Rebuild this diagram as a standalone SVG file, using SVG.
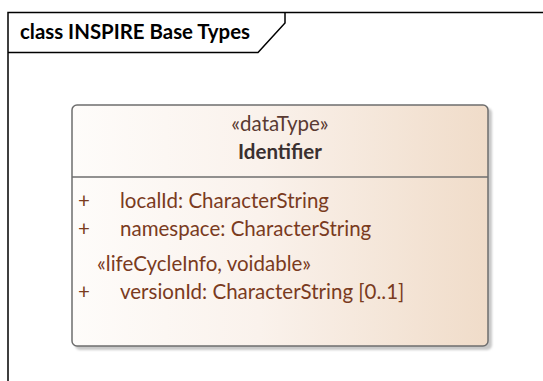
<svg xmlns="http://www.w3.org/2000/svg" width="543" height="381" viewBox="0 0 543 381">
  <style>
    .frame { fill: none; stroke: #000; stroke-width: 1.5; }
    .title { font-family: Lato, "Open Sans", sans-serif; font-weight: bold; font-size: 20.4px; fill: #000; }
    .stereo { font-family: Lato, "Open Sans", sans-serif; font-size: 20.5px; fill: #5a3a32; }
    .name { font-family: Lato, "Open Sans", sans-serif; font-weight: bold; font-size: 20.5px; fill: #3a3030; }
    .attr { font-family: Lato, "Open Sans", sans-serif; font-size: 20.5px; fill: #7a3b1e; }
    .box { fill: url(#nodeFill); stroke: #6e6e6e; stroke-width: 1.5; }
    .shadow { fill: #c8c8c8; }
    .divider { stroke: #6e6e6e; stroke-width: 1.5; }
  </style>
  <defs>
    <linearGradient id="nodeFill" x1="0" y1="0" x2="1" y2="0">
      <stop offset="0" stop-color="#fefcfa"/>
      <stop offset="0.45" stop-color="#faf2ec"/>
      <stop offset="1" stop-color="#f0dcc9"/>
    </linearGradient>
    <filter id="blur" x="-5%" y="-5%" width="110%" height="110%">
      <feGaussianBlur stdDeviation="1.2"/>
    </filter>
  </defs>

  <rect width="543" height="381" fill="#fff"/>

  <!-- diagram frame with name tab -->
  <g id="frame">
    <path class="frame" d="M8,381 V12.5 H543"/>
    <path class="frame" d="M8,52.5 H258 L285,23 V12.5"/>
    <text class="title" x="20" y="39">class INSPIRE Base Types</text>
  </g>

  <!-- data type Identifier -->
  <g id="identifier">
    <rect class="shadow" x="75" y="108" width="417" height="242" rx="5" filter="url(#blur)"/>
    <rect class="box" x="72" y="105" width="416" height="241" rx="5"/>
    <line class="divider" x1="72" y1="177" x2="488" y2="177"/>
    <text class="stereo" x="280" y="131" text-anchor="middle">«dataType»</text>
    <text class="name" x="280" y="159" text-anchor="middle">Identifier</text>
    <text class="attr" x="78" y="208">+</text>
    <text class="attr" x="120" y="208">localId: CharacterString</text>
    <text class="attr" x="78" y="236">+</text>
    <text class="attr" x="120" y="236">namespace: CharacterString</text>
    <text class="attr" x="97" y="271">«lifeCycleInfo, voidable»</text>
    <text class="attr" x="78" y="299">+</text>
    <text class="attr" x="120" y="299">versionId: CharacterString [0..1]</text>
  </g>
</svg>
